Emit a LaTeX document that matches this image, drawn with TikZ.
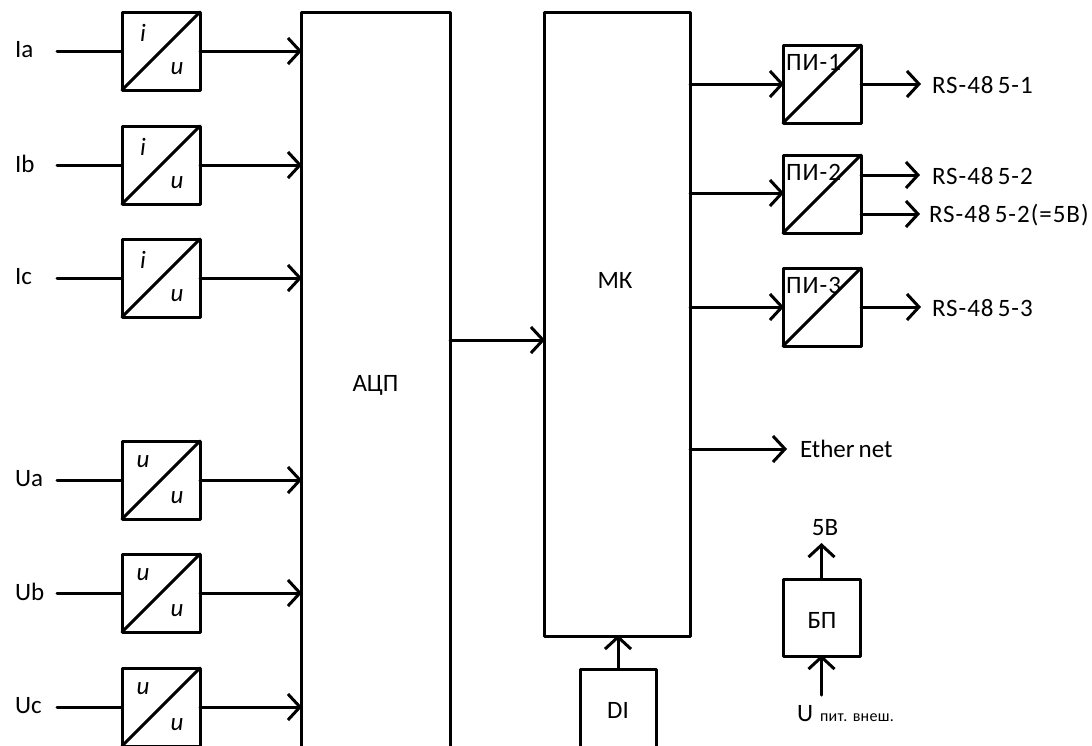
\documentclass[tikz,border=0pt]{standalone}
\usepackage{fontspec}
\setmainfont{Carlito}
\usetikzlibrary{arrows.meta}
\tikzset{
  x=1pt,y=-1pt,
  lw/.style={line width=3pt},
  wire/.style={lw,line cap=round},
  conv/.style={draw,lw,line join=round,minimum width=78pt,minimum height=78pt,inner sep=0pt,outer sep=0pt},
  arr/.style={wire,-{Straight Barb[length=12pt,width=26pt,line width=3pt]},shorten >=-1pt},
  lab/.style={font=\fontsize{25}{28}\selectfont,inner sep=0pt,outer sep=0pt},
  wide/.style={font=\fontsize{25}{28}\selectfont\addfontfeature{LetterSpace=4},inner sep=0pt,outer sep=0pt},
  sym/.style={font=\fontsize{25}{28}\selectfont\itshape,inner sep=0pt,outer sep=0pt},
}
\begin{document}
\begin{tikzpicture}
\useasboundingbox (0,0) rectangle (1092,745);
% large blocks
\node[draw,lw,line join=round,minimum width=149pt,minimum height=746pt,inner sep=0pt,outer sep=0pt] (adc) at (375.5,385) {};
\node[lab] (adct) at (375.5,385) {АЦП};
\node[draw,lw,line join=round,minimum width=146pt,minimum height=624pt,inner sep=0pt,outer sep=0pt] (mk) at (617,324) {};
\node[lab] (mkt) at (615,280) {МК};
% converters
\foreach \n/\y/\a/\b/\l/\ly in {ca/51/i/u/Ia/51,cb/165/i/u/Ib/165,cc/278/i/u/Ic/278,cd/480/u/u/Ua/480,ce/593/u/u/Ub/593,cf/707/u/u/Uc/707}{
  \node[conv] (\n) at (161,\y) {};
  \draw[wire] (\n.south west) -- (\n.north east);
  \node[sym] (\n a) at (143,\y-18) {\a};
  \node[sym] (\n b) at (177,\y+18) {\b};
  \node[lab,anchor=west] (\n l) at (15,\y-1) {\l};
  \coordinate (\n i) at (57,\y);
  \draw[wire] (\n i) -- (\n.west);
  \draw[arr] (\n.east) -- (\n.east -| adc.west);
}
\draw[arr] (adc.east |- 450,340) -- (mk.west |- 450,340);
% PI
\foreach \n/\y/\t/\iy in {pa/84/ПИ-1/84,pb/194/ПИ-2/193,pc/307/ПИ-3/307}{
  \node[conv] (\n) at (822,\y) {};
  \draw[wire] (\n.south west) -- (\n.north east);
  \node[wide,anchor=west] (\n t) at ([xshift=3pt,yshift=22pt]\n.west) {\t};
  \draw[arr] (mk.east |- 700,\iy) -- (\n.west |- 700,\iy);
}
\coordinate (o1) at (920,84);
\coordinate (o2) at (919,175);
\coordinate (o3) at (919,214);
\coordinate (o4) at (920,307);
\draw[arr] (pa.east |- o1) -- (o1);
\draw[arr] (pb.east |- o2) -- (o2);
\draw[arr] (pb.east |- o3) -- (o3);
\draw[arr] (pc.east |- o4) -- (o4);
\node[wide,anchor=west] (t1) at (932,85) {RS-48\,5-1};
\node[wide,anchor=west] (t2) at (932,176) {RS-48\,5-2};
\node[wide,anchor=west] (t3) at (929,215) {RS-48\,5-2(=5В)};
\node[wide,anchor=west] (t4) at (932,308) {RS-48\,5-3};
\coordinate (o5) at (786,449);
\draw[arr] (mk.east |- o5) -- (o5);
\node[lab,anchor=west] (t5) at (800,449) {Ether\,net};
% DI
\node[draw,lw,line join=round,minimum width=76pt,minimum height=90pt,inner sep=0pt,outer sep=0pt] (di) at (618,714) {};
\node[lab] (dit) at (618,710) {DI};
\draw[arr] (di.north) -- (di.north |- mk.south);
% BP
\node[draw,lw,line join=round,minimum width=77pt,minimum height=77pt,inner sep=0pt,outer sep=0pt] (bp) at (821.5,617.5) {};
\node[lab] (bpt) at (822,620) {БП};
\coordinate (bpo) at (821.5,544);
\coordinate (bpi) at (821.5,695);
\draw[arr] (bp.north) -- (bpo);
\draw[arr] (bpi) -- (bp.south);
\node[lab] (v5) at (825,528) {5В};
\node[lab,anchor=base west] (u) at (797,721) {U};
\node[lab,font=\fontsize{16}{18}\selectfont\addfontfeature{LetterSpace=2},anchor=base west] (us) at (820,721) {пит. внеш.};
\end{tikzpicture}
\end{document}
